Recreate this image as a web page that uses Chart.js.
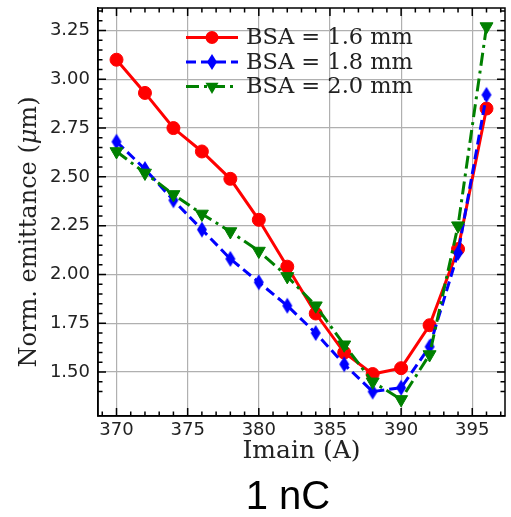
<!DOCTYPE html>
<html>
<head>
<meta charset="utf-8">
<script src="https://cdn.jsdelivr.net/npm/chart.js@4"></script>
<style>
    html, body { margin: 0; padding: 0; background: #fff; }
    #wrap { position: relative; width: 511px; height: 517px; }
    #caption {
        position: absolute; left: 288px; top: 475px;
        transform: translateX(-50%);
        font: 40px "Liberation Sans", Arial, sans-serif;
        line-height: 1; color: #000; white-space: nowrap;
    }
</style>
</head>
<body>
<div id="wrap">
    <canvas id="chart" width="511" height="517"></canvas>
    <div id="caption">1 nC</div>
</div>
<script>
// --- Data ---
const imain   = [370, 372, 374, 376, 378, 380, 382, 384, 386, 388, 390, 392, 394, 396];
const bsa16   = [3.10, 2.93, 2.75, 2.63, 2.49, 2.28, 2.04, 1.80, 1.60, 1.49, 1.52, 1.74, 2.13, 2.85];
const bsa18   = [2.68, 2.54, 2.38, 2.23, 2.08, 1.96, 1.84, 1.70, 1.54, 1.40, 1.42, 1.63, 2.11, 2.92];
const bsa20   = [2.63, 2.52, 2.41, 2.31, 2.22, 2.12, 1.99, 1.84, 1.64, 1.45, 1.36, 1.59, 2.25, 3.27];
const seriesLabels = ["BSA = 1.6 mm", "BSA = 1.8 mm", "BSA = 2.0 mm"];

const xTicks = [370, 375, 380, 385, 390, 395];
const yTicks = [1.50, 1.75, 2.00, 2.25, 2.50, 2.75, 3.00, 3.25];

const xMin = 368.7, xMax = 397.3;
const yMin = 1.275, yMax = 3.365;

const SERIF = '"DejaVu Serif", serif';
const SANS  = '"DejaVu Sans", sans-serif';

// thin diamond marker (matplotlib "d")
function thinDiamond(color, w, h) {
    const c = document.createElement("canvas");
    c.width = w + 2; c.height = h + 2;
    const g = c.getContext("2d");
    g.fillStyle = color;
    g.beginPath();
    g.moveTo(c.width / 2, 1);
    g.lineTo(c.width - 1, c.height / 2);
    g.lineTo(c.width / 2, c.height - 1);
    g.lineTo(1, c.height / 2);
    g.closePath();
    g.fill();
    return c;
}
const diamond = thinDiamond("#0000ff", 10, 16);

const toXY = ys => imain.map((x, i) => ({ x, y: ys[i] }));

const datasets = [
    { label: seriesLabels[0], data: toXY(bsa16), borderColor: "#ff0000", backgroundColor: "#ff0000",
      borderWidth: 3, pointStyle: "circle", pointRadius: 6.5, order: 3 },
    { label: seriesLabels[1], data: toXY(bsa18), borderColor: "#0000ff", backgroundColor: "#0000ff",
      borderWidth: 3, borderDash: [10, 5], pointStyle: diamond, pointRadius: 8, order: 2 },
    { label: seriesLabels[2], data: toXY(bsa20), borderColor: "#008000", backgroundColor: "#008000",
      borderWidth: 3, borderDash: [13, 5, 3, 5], pointStyle: "triangle", rotation: 180, pointRadius: 7.5, order: 1 },
];
datasets.forEach(d => { d.fill = false; d.tension = 0; d.pointBorderWidth = 1; });

// --- Plugins ---

// inward ticks on all four sides + top/right frame
const frameTicks = {
    id: "frameTicks",
    afterDatasetsDraw(chart) {
        const { ctx, chartArea: a, scales: { x, y } } = chart;
        ctx.save();
        ctx.strokeStyle = "#000";
        ctx.lineWidth = 1.5;
        const tick = (px, len, vertical) => {
            ctx.beginPath();
            if (vertical) {
                ctx.moveTo(px, a.bottom); ctx.lineTo(px, a.bottom - len);
                ctx.moveTo(px, a.top);    ctx.lineTo(px, a.top + len);
            } else {
                ctx.moveTo(a.left, px);  ctx.lineTo(a.left + len, px);
                ctx.moveTo(a.right, px); ctx.lineTo(a.right - len, px);
            }
            ctx.stroke();
        };
        for (let v = 369; v <= 397; v++) {
            tick(x.getPixelForValue(v), v % 5 === 0 ? 8 : 4.5, true);
        }
        for (let k = 28; k <= 67; k++) {
            const v = k * 0.05;
            if (v < yMin || v > yMax) continue;
            tick(y.getPixelForValue(v), k % 5 === 0 ? 8 : 4.5, false);
        }
        ctx.strokeRect(a.left, a.top, a.right - a.left, a.bottom - a.top);
        ctx.restore();
    }
};

// legend: line + marker + text, no frame
const lineLegend = {
    id: "lineLegend",
    afterDraw(chart) {
        const ctx = chart.ctx;
        const x0 = 186, x1 = 238, tx = 246;
        const rows = [37.5, 62, 86.5];
        ctx.save();
        datasets.forEach((d, i) => {
            const yy = rows[i];
            ctx.strokeStyle = d.borderColor;
            ctx.lineWidth = 3;
            ctx.setLineDash(d.borderDash || []);
            ctx.beginPath(); ctx.moveTo(x0, yy); ctx.lineTo(x1, yy); ctx.stroke();
            ctx.setLineDash([]);
            const mx = (x0 + x1) / 2;
            ctx.fillStyle = d.backgroundColor;
            ctx.beginPath();
            if (d.pointStyle === "circle") {
                ctx.arc(mx, yy, d.pointRadius, 0, Math.PI * 2); ctx.fill();
            } else if (d.pointStyle === "triangle") {
                const r = d.pointRadius;
                ctx.moveTo(mx, yy + r);
                ctx.lineTo(mx - r * 0.866, yy - r / 2);
                ctx.lineTo(mx + r * 0.866, yy - r / 2);
                ctx.closePath(); ctx.fill();
            } else {
                ctx.drawImage(d.pointStyle, mx - d.pointStyle.width / 2, yy - d.pointStyle.height / 2);
            }
            ctx.fillStyle = "#222";
            ctx.font = `22.5px ${SERIF}`;
            ctx.textBaseline = "middle";
            ctx.textAlign = "left";
            ctx.fillText(d.label, tx, yy + 1);
        });
        ctx.restore();
    }
};

// rotated y title with italic mu
const yTitle = {
    id: "yTitle",
    afterDraw(chart) {
        const ctx = chart.ctx;
        const parts = [["Norm. emittance (", "normal"], ["\u03bc", "italic"], ["m)", "normal"]];
        ctx.save();
        ctx.translate(30, 232);
        ctx.rotate(-Math.PI / 2);
        ctx.fillStyle = "#222";
        ctx.textBaseline = "middle";
        ctx.textAlign = "left";
        let total = 0;
        parts.forEach(([t, s]) => { ctx.font = `${s} 24px ${SERIF}`; total += ctx.measureText(t).width; });
        let cx = -total / 2;
        parts.forEach(([t, s]) => {
            ctx.font = `${s} 24px ${SERIF}`;
            ctx.fillText(t, cx, 0);
            cx += ctx.measureText(t).width;
        });
        ctx.restore();
    }
};

// --- Chart ---

new Chart(document.getElementById("chart"), {
    type: "line",
    data: { datasets },
    options: {
        responsive: false,
        animation: false,
        devicePixelRatio: 1,
        layout: { autoPadding: false, padding: { left: 0, right: 6, top: 8, bottom: 51 } },
        plugins: { legend: { display: false }, tooltip: { enabled: false } },
        scales: {
            x: {
                type: "linear", min: xMin, max: xMax,
                afterBuildTicks: s => { s.ticks = xTicks.map(v => ({ value: v })); },
                afterFit: s => { s.height = 50; s.paddingLeft = 0; s.paddingRight = 0; },
                ticks: { color: "#222", font: { family: SANS, size: 18 }, padding: 4, maxRotation: 0 },
                grid: { color: "#b0b0b0", lineWidth: 1.2, drawTicks: false },
                border: { color: "#000", width: 1.5 },
                title: { display: true, text: "Imain (A)", color: "#222",
                         font: { family: SERIF, size: 25 }, padding: { top: 0, bottom: 0 } }
            },
            y: {
                type: "linear", min: yMin, max: yMax,
                afterBuildTicks: s => { s.ticks = yTicks.map(v => ({ value: v })); },
                afterFit: s => { s.width = 98; s.paddingTop = 0; s.paddingBottom = 0; },
                ticks: { color: "#222", font: { family: SANS, size: 18 }, padding: 8,
                         callback: v => Number(v).toFixed(2) },
                grid: { color: "#b0b0b0", lineWidth: 1.2, drawTicks: false },
                border: { color: "#000", width: 1.5 }
            }
        }
    },
    plugins: [frameTicks, lineLegend, yTitle]
});
</script>
</body>
</html>
